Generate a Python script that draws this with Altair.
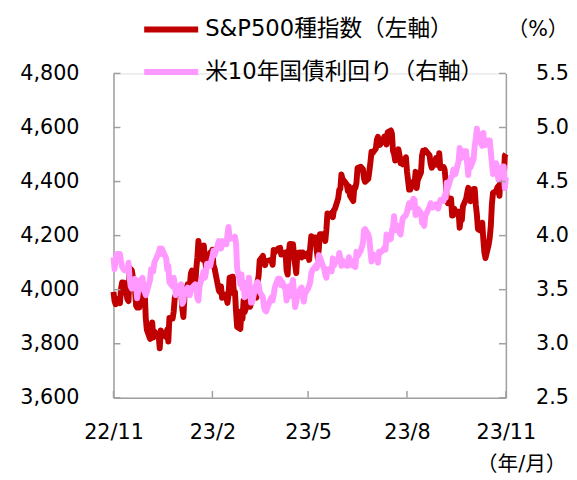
import altair as alt
import pandas as pd

# ---------------- data ----------------
months = ["2022-11", "2022-12", "2023-01", "2023-02", "2023-03", "2023-04", "2023-05",
          "2023-06", "2023-07", "2023-08", "2023-09", "2023-10", "2023-11"]

trading_days = [
    [15, 16, 17, 18, 21, 22, 23, 25, 28, 29, 30],
    [1, 2, 5, 6, 7, 8, 9, 12, 13, 14, 15, 16, 19, 20, 21, 22, 23, 27, 28, 29, 30],
    [3, 4, 5, 6, 9, 10, 11, 12, 13, 17, 18, 19, 20, 23, 24, 25, 26, 27, 30, 31],
    [1, 2, 3, 6, 7, 8, 9, 10, 13, 14, 15, 16, 17, 21, 22, 23, 24, 27, 28],
    [1, 2, 3, 6, 7, 8, 9, 10, 13, 14, 15, 16, 17, 20, 21, 22, 23, 24, 27, 28, 29, 30, 31],
    [3, 4, 5, 6, 10, 11, 12, 13, 14, 17, 18, 19, 20, 21, 24, 25, 26, 27, 28],
    [1, 2, 3, 4, 5, 8, 9, 10, 11, 12, 15, 16, 17, 18, 19, 22, 23, 24, 25, 26, 30, 31],
    [1, 2, 5, 6, 7, 8, 9, 12, 13, 14, 15, 16, 20, 21, 22, 23, 26, 27, 28, 29, 30],
    [3, 5, 6, 7, 10, 11, 12, 13, 14, 17, 18, 19, 20, 21, 24, 25, 26, 27, 28, 31],
    [1, 2, 3, 4, 7, 8, 9, 10, 11, 14, 15, 16, 17, 18, 21, 22, 23, 24, 25, 28, 29, 30, 31],
    [1, 5, 6, 7, 8, 11, 12, 13, 14, 15, 18, 19, 20, 21, 22, 25, 26, 27, 28, 29],
    [2, 3, 4, 5, 6, 9, 10, 11, 12, 13, 16, 17, 18, 19, 20, 23, 24, 25, 26, 27, 30, 31],
    [1, 2, 3, 6, 7, 8, 9, 10, 13, 14, 15],
]

sp500 = [
    [3992, 3958, 3946, 3965, 3950, 4003, 4027, 4026, 3964, 3958, 4080],
    [4076, 4072, 3999, 3941, 3934, 3964, 3934, 3991, 4019, 3996, 3896, 3852, 3818, 3821, 3879, 3823, 3845, 3829, 3783, 3849, 3840],
    [3825, 3853, 3808, 3895, 3893, 3919, 3970, 3983, 3999, 3991, 3929, 3899, 3973, 4020, 4017, 4016, 4060, 4071, 4018, 4077],
    [4119, 4180, 4136, 4111, 4164, 4118, 4082, 4090, 4137, 4136, 4148, 4090, 4079, 3997, 3991, 4012, 3970, 3982, 3970],
    [3951, 3981, 4045, 4048, 3986, 3992, 3918, 3862, 3855, 3920, 3892, 3960, 3917, 3952, 4003, 3937, 3949, 3971, 3977, 3971, 4028, 4051, 4109],
    [4125, 4101, 4091, 4105, 4110, 4109, 4092, 4147, 4138, 4152, 4154, 4155, 4130, 4133, 4138, 4072, 4056, 4136, 4169],
    [4168, 4120, 4091, 4061, 4136, 4138, 4119, 4138, 4131, 4124, 4136, 4110, 4158, 4198, 4192, 4193, 4146, 4116, 4151, 4205, 4206, 4180],
    [4221, 4282, 4273, 4284, 4268, 4294, 4299, 4338, 4369, 4373, 4426, 4410, 4389, 4365, 4382, 4348, 4328, 4378, 4377, 4396, 4450],
    [4455, 4446, 4412, 4399, 4410, 4439, 4472, 4510, 4505, 4522, 4555, 4566, 4535, 4536, 4555, 4567, 4566, 4537, 4582, 4589],
    [4577, 4513, 4502, 4478, 4519, 4499, 4468, 4469, 4464, 4490, 4437, 4404, 4370, 4370, 4400, 4388, 4436, 4376, 4406, 4433, 4497, 4514, 4508],
    [4516, 4497, 4465, 4451, 4457, 4487, 4462, 4467, 4505, 4450, 4454, 4444, 4402, 4330, 4320, 4337, 4274, 4275, 4300, 4288],
    [4288, 4229, 4263, 4258, 4308, 4336, 4358, 4377, 4349, 4327, 4373, 4373, 4314, 4278, 4224, 4217, 4248, 4186, 4137, 4117, 4167, 4194],
    [4237, 4318, 4358, 4365, 4378, 4383, 4347, 4415, 4411, 4496, 4502],
]

ust10y = [
    [3.80, 3.69, 3.77, 3.83, 3.83, 3.76, 3.71, 3.68, 3.68, 3.75, 3.61],
    [3.53, 3.51, 3.60, 3.53, 3.42, 3.49, 3.58, 3.61, 3.50, 3.48, 3.45, 3.48, 3.59, 3.69, 3.67, 3.67, 3.75, 3.84, 3.88, 3.83, 3.88],
    [3.79, 3.69, 3.72, 3.57, 3.53, 3.61, 3.55, 3.45, 3.50, 3.55, 3.37, 3.39, 3.48, 3.52, 3.46, 3.45, 3.50, 3.52, 3.55, 3.52],
    [3.42, 3.40, 3.53, 3.64, 3.67, 3.61, 3.66, 3.74, 3.72, 3.77, 3.81, 3.86, 3.82, 3.95, 3.92, 3.88, 3.95, 3.92, 3.92],
    [4.01, 4.08, 3.97, 3.98, 3.97, 3.99, 3.93, 3.70, 3.55, 3.64, 3.51, 3.57, 3.43, 3.47, 3.61, 3.48, 3.38, 3.38, 3.53, 3.55, 3.57, 3.55, 3.48],
    [3.43, 3.34, 3.31, 3.30, 3.41, 3.43, 3.40, 3.45, 3.52, 3.60, 3.58, 3.60, 3.54, 3.57, 3.50, 3.40, 3.45, 3.53, 3.44],
    [3.59, 3.45, 3.34, 3.39, 3.44, 3.51, 3.52, 3.44, 3.39, 3.46, 3.51, 3.54, 3.57, 3.65, 3.68, 3.72, 3.70, 3.74, 3.82, 3.80, 3.69, 3.64],
    [3.61, 3.69, 3.69, 3.67, 3.79, 3.72, 3.75, 3.77, 3.84, 3.79, 3.72, 3.77, 3.72, 3.72, 3.80, 3.74, 3.72, 3.77, 3.71, 3.85, 3.81],
    [3.86, 3.93, 4.05, 4.06, 4.01, 3.97, 3.86, 3.76, 3.83, 3.81, 3.79, 3.75, 3.85, 3.84, 3.87, 3.89, 3.87, 4.01, 3.96, 3.97],
    [4.05, 4.08, 4.18, 4.05, 4.09, 4.03, 4.01, 4.09, 4.16, 4.19, 4.22, 4.26, 4.30, 4.26, 4.34, 4.33, 4.19, 4.24, 4.25, 4.21, 4.12, 4.12, 4.09],
    [4.18, 4.27, 4.30, 4.26, 4.26, 4.29, 4.27, 4.25, 4.29, 4.33, 4.32, 4.37, 4.35, 4.49, 4.44, 4.54, 4.55, 4.61, 4.59, 4.57],
    [4.69, 4.81, 4.73, 4.72, 4.78, 4.78, 4.66, 4.56, 4.70, 4.63, 4.71, 4.83, 4.90, 4.99, 4.93, 4.85, 4.83, 4.95, 4.85, 4.84, 4.88, 4.88],
    [4.77, 4.67, 4.57, 4.67, 4.58, 4.52, 4.62, 4.63, 4.64, 4.44, 4.54],
]

series_names = ["S&P500種指数（左軸）", "米10年国債利回り（右軸）"]
series_colors = ["#C00000", "#FF99FF"]

left_ticks = [3600, 3800, 4000, 4200, 4400, 4600, 4800]
right_ticks = [2.5, 3.0, 3.5, 4.0, 4.5, 5.0, 5.5]
x_tick_dates = ["2022-11-15", "2023-02-15", "2023-05-15", "2023-08-15", "2023-11-15"]

# ---------------- tables ----------------
sp_rows, y_rows = [], []
for m, days, s_vals, y_vals in zip(months, trading_days, sp500, ust10y):
    if not (len(days) == len(s_vals) == len(y_vals)):
        raise ValueError(f"length mismatch in {m}")
    for d, s, y in zip(days, s_vals, y_vals):
        date = f"{m}-{d:02d}"
        sp_rows.append({"date": date, "value": s, "series": series_names[0]})
        y_rows.append({"date": date, "value": y, "series": series_names[1]})
df_sp = pd.DataFrame(sp_rows)
df_y = pd.DataFrame(y_rows)
df_xt = pd.DataFrame({"date": x_tick_dates})

W, H = 398, 329
GRAY = "#A0A0A0"
FONT = "DejaVu Sans, Noto Sans CJK JP"
TICK = 7


def to_dt(s):
    yy, mm, dd = (int(p) for p in s.split("-"))
    return alt.DateTime(year=yy, month=mm, date=dd, utc=True)


x_vals = [to_dt(s) for s in x_tick_dates]
x_scale = alt.Scale(type="utc", domain=[x_vals[0], x_vals[-1]])

x_enc = alt.X("date:T", scale=x_scale,
              axis=alt.Axis(values=x_vals,
                            labelExpr="utcFormat(datum.value, '%y/%-m')",
                            labelFlush=False, labelOverlap=False,
                            title="（年/月）", titleAngle=0, titleAlign="right",
                            titleBaseline="middle", titleX=W + 61, titleY=68,
                            titleFontSize=21, titleFontWeight="normal",
                            titleFont=FONT, titleColor="#000000",
                            labelFontSize=21, labelFont=FONT, labelColor="#000000",
                            labelPadding=24, ticks=False, grid=False,
                            domainColor=GRAY, domainWidth=1.5))

color = alt.Color("series:N",
                  scale=alt.Scale(domain=series_names, range=series_colors),
                  legend=alt.Legend(orient="none", legendX=28, legendY=-75, title=None,
                                    symbolType="stroke", symbolSize=3000,
                                    symbolStrokeWidth=6, labelFontSize=23,
                                    labelFont=FONT, labelColor="#000000",
                                    labelOffset=4, rowPadding=-3, labelLimit=400))

sp_line = alt.Chart(df_sp).mark_line(strokeWidth=6, strokeJoin="round").encode(
    x=x_enc,
    y=alt.Y("value:Q", scale=alt.Scale(domain=[3600, 4800], nice=False, zero=False),
            axis=alt.Axis(values=left_ticks, format=",d", title=None, orient="left",
                          labelFontSize=21, labelFont=FONT, labelColor="#000000",
                          labelPadding=35, ticks=False, grid=False,
                          domainColor=GRAY, domainWidth=1.5)),
    color=color,
)

y_line = alt.Chart(df_y).mark_line(strokeWidth=6, strokeJoin="round").encode(
    x=x_enc,
    y=alt.Y("value:Q", scale=alt.Scale(domain=[2.5, 5.5], nice=False, zero=False),
            axis=alt.Axis(values=right_ticks, format=".1f", orient="right",
                          title="（%）", titleAngle=0, titleAlign="right",
                          titleBaseline="middle", titleX=63, titleY=-44,
                          titleFontSize=21, titleFontWeight="normal",
                          titleFont=FONT, titleColor="#000000",
                          labelFontSize=21, labelFont=FONT, labelColor="#000000",
                          labelPadding=30, ticks=False, grid=False,
                          domainColor=GRAY, domainWidth=1.5)),
    color=color,
)

lt = alt.Chart(pd.DataFrame({"v": left_ticks})).mark_rule(color=GRAY, strokeWidth=1.5).encode(
    y=alt.Y("v:Q", scale=alt.Scale(domain=[3600, 4800], nice=False, zero=False), axis=None),
    x=alt.value(0), x2=alt.value(TICK))

rt = alt.Chart(pd.DataFrame({"v": right_ticks})).mark_rule(color=GRAY, strokeWidth=1.5).encode(
    y=alt.Y("v:Q", scale=alt.Scale(domain=[2.5, 5.5], nice=False, zero=False), axis=None),
    x=alt.value(W - TICK), x2=alt.value(W))

bt = alt.Chart(df_xt).mark_rule(color=GRAY, strokeWidth=1.5).encode(
    x=x_enc,
    y=alt.value(H - TICK), y2=alt.value(H))

chart = alt.layer(sp_line, y_line, lt, rt, bt).resolve_scale(
    y="independent").resolve_axis(y="independent").properties(
    width=W, height=H,
    autosize=alt.AutoSizeParams(type="none"),
    padding={"left": 107, "top": 63, "right": 64, "bottom": 80},
).configure_view(stroke=None).configure(background="white")

chart.save("out.html", embed_options={"renderer": "svg", "actions": False})
